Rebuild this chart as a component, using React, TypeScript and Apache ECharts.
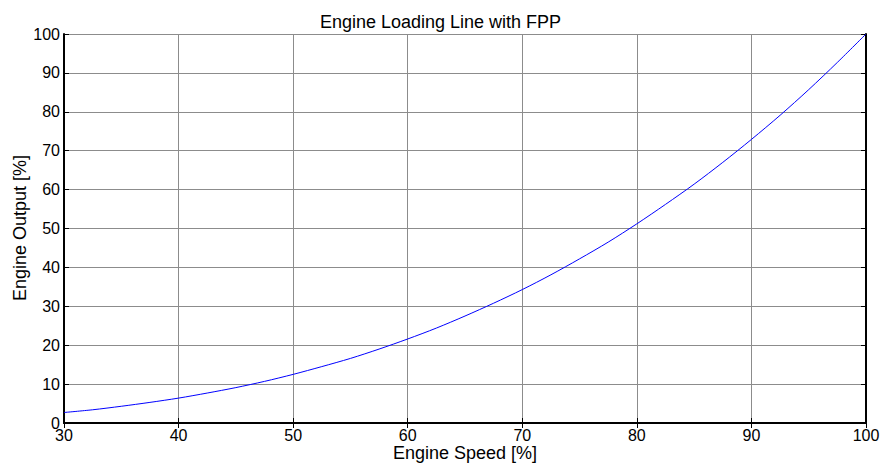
import React, { useEffect, useRef } from "react";
import * as echarts from "echarts";

const speed = [30, 32.5, 35, 37.5, 40, 42.5, 45, 47.5, 50, 52.5, 55, 57.5, 60, 62.5, 65, 67.5, 70, 72.5, 75, 77.5, 80, 82.5, 85, 87.5, 90, 92.5, 95, 97.5, 100];
const output = [2.7, 3.4, 4.3, 5.3, 6.4, 7.7, 9.1, 10.7, 12.5, 14.5, 16.6, 19.0, 21.6, 24.4, 27.5, 30.8, 34.3, 38.1, 42.2, 46.5, 51.2, 56.2, 61.4, 67.0, 72.9, 79.1, 85.7, 92.7, 100];
const titleText = "Engine Loading Line with FPP";
const xName = "Engine Speed [%]";
const yName = "Engine Output [%]";

const FONT = "Arial, 'Liberation Sans', Helvetica, sans-serif";

export default function App() {
  const ref = useRef<HTMLDivElement>(null);
  useEffect(() => {
    const chart = echarts.init(ref.current!, null, { renderer: "svg" });
    const axisLine = { show: true, lineStyle: { color: "#000", width: 2 } };
    const tick = { show: true, inside: true, length: 5, lineStyle: { color: "#000", width: 1 } };
    chart.setOption({
      animation: false,
      backgroundColor: "#fff",
      title: {
        text: titleText,
        left: "center",
        top: 8,
        textStyle: { fontFamily: FONT, fontSize: 18, fontWeight: "normal", color: "#000" },
      },
      graphic: [
        {
          type: "text",
          x: 465,
          y: 453,
          style: { text: xName, fontFamily: FONT, fontSize: 18, fill: "#000", align: "center", verticalAlign: "middle" },
        },
        {
          type: "text",
          x: 20,
          y: 228,
          rotation: Math.PI / 2,
          style: { text: yName, fontFamily: FONT, fontSize: 18, fill: "#000", align: "center", verticalAlign: "middle" },
        },
      ],
      grid: { left: 64, right: 15, top: 34, bottom: 41, containLabel: false, outerBoundsMode: "none" },
      xAxis: [
        {
          type: "value",
          min: 30,
          max: 100,
          interval: 10,
          axisLine,
          axisTick: tick,
          axisLabel: { fontFamily: FONT, fontSize: 16, color: "#000", margin: 4 },
          splitLine: { show: true, lineStyle: { color: "#8c8c8c", width: 1 } },
        },
        {
          type: "value",
          position: "top",
          min: 30,
          max: 100,
          interval: 10,
          axisLine,
          axisTick: tick,
          axisLabel: { show: false },
          splitLine: { show: false },
        },
      ],
      yAxis: [
        {
          type: "value",
          min: 0,
          max: 100,
          interval: 10,
          axisLine,
          axisTick: tick,
          axisLabel: { fontFamily: FONT, fontSize: 16, color: "#000", margin: 4 },
          splitLine: { show: true, lineStyle: { color: "#8c8c8c", width: 1 } },
        },
        {
          type: "value",
          position: "right",
          min: 0,
          max: 100,
          interval: 10,
          axisLine,
          axisTick: tick,
          axisLabel: { show: false },
          splitLine: { show: false },
        },
      ],
      series: [
        {
          type: "line",
          data: speed.map((s, i) => [s, output[i]]),
          smooth: 0.3,
          showSymbol: false,
          lineStyle: { color: "#0000ff", width: 1 },
        },
      ],
    });
    return () => chart.dispose();
  }, []);
  return <div ref={ref} style={{ width: 881, height: 464, position: "absolute", left: 0, top: 0 }} />;
}
